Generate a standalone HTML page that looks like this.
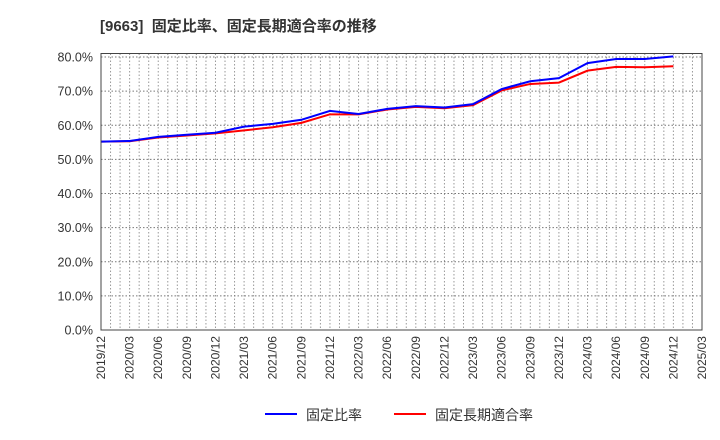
<!DOCTYPE html>
<html><head><meta charset="utf-8"><style>
body{margin:0;background:#fff;}
svg{display:block;font-family:"Liberation Sans","Noto Sans CJK JP",sans-serif;}
</style></head><body>
<svg id="c" width="720" height="440">
<text x="100" y="31" font-size="15" font-weight="bold" fill="#333">[9663]&#160; 固定比率、固定長期適合率の推移</text>
<g id="grid"></g>
<g id="yaxis"></g>
<g id="xaxis"></g>
<g id="series"></g>
<rect x="101" y="53.5" width="601" height="276.5" fill="none" stroke="#444" stroke-width="1"/>
<g>
<g>
<line x1="265" y1="414" x2="297" y2="414" stroke="#0000ff" stroke-width="2"/>
<text x="306" y="420" font-size="14" fill="#333">固定比率</text></g>
<g>
<line x1="394" y1="414" x2="426" y2="414" stroke="#ff0000" stroke-width="2"/>
<text x="435" y="420" font-size="14" fill="#333">固定長期適合率</text></g>
</g>
</svg>
<script>
const categories=["2019/12","2020/03","2020/06","2020/09","2020/12","2021/03","2021/06","2021/09","2021/12","2022/03","2022/06","2022/09","2022/12","2023/03","2023/06","2023/09","2023/12","2024/03","2024/06","2024/09","2024/12","2025/03"];
const fixedRatio=[55.2,55.4,56.6,57.2,57.8,59.6,60.4,61.6,64.2,63.3,64.8,65.6,65.2,66.2,70.6,72.9,73.8,78.2,79.4,79.4,80.2];
const fixedLongTermRatio=[55.2,55.3,56.4,57.0,57.6,58.5,59.4,60.7,63.2,63.2,64.6,65.4,65.0,65.9,70.2,72.1,72.5,76.0,77.1,77.0,77.3];
const yTicks=[0,10,20,30,40,50,60,70,80];
const NS="http://www.w3.org/2000/svg";
const X0=101,X1=702,Y0=330,YTOP=53.5;
const xs=i=>X0+i*(X1-X0)/(categories.length-1);
const ys=v=>Y0-v*(Y0-57)/80;
function mk(t,a,p){const e=document.createElementNS(NS,t);for(const k in a)e.setAttribute(k,a[k]);p.appendChild(e);return e;}
const grid=document.getElementById('grid'),ya=document.getElementById('yaxis'),xa=document.getElementById('xaxis'),se=document.getElementById('series');
const months=(categories.length-1)*3;
for(let m=1;m<months;m++){const x=X0+m*(X1-X0)/months;
const l=mk('line',{x1:x,x2:x,y1:YTOP,y2:Y0,stroke:'#999','stroke-dasharray':'1.5,2','stroke-width':1},grid);

}
yTicks.forEach(v=>{const y=ys(v);
if(v>0){const l=mk('line',{x1:X0,x2:X1,y1:y,y2:y,stroke:'#777','stroke-dasharray':'1.5,2','stroke-width':1},grid);

}
const t=mk('text',{x:93,y:y+4.5,'font-size':12.5,fill:'#333','text-anchor':'end'},ya);t.textContent=v.toFixed(1)+'%';

});
categories.forEach((c,i)=>{const x=xs(i);
const t=mk('text',{x:0,y:0,'font-size':12,fill:'#333','text-anchor':'end',transform:`translate(${x+4},336) rotate(-90)`},xa);t.textContent=c;

});
function line(d,col,name){const p=mk('polyline',{points:d.map((v,i)=>xs(i)+','+ys(v)).join(' '),fill:'none',stroke:col,'stroke-width':2},se);

}
line(fixedLongTermRatio,'#ff0000','fixed-long-term-ratio-line');
line(fixedRatio,'#0000ff','fixed-ratio-line');
</script>
</body></html>
